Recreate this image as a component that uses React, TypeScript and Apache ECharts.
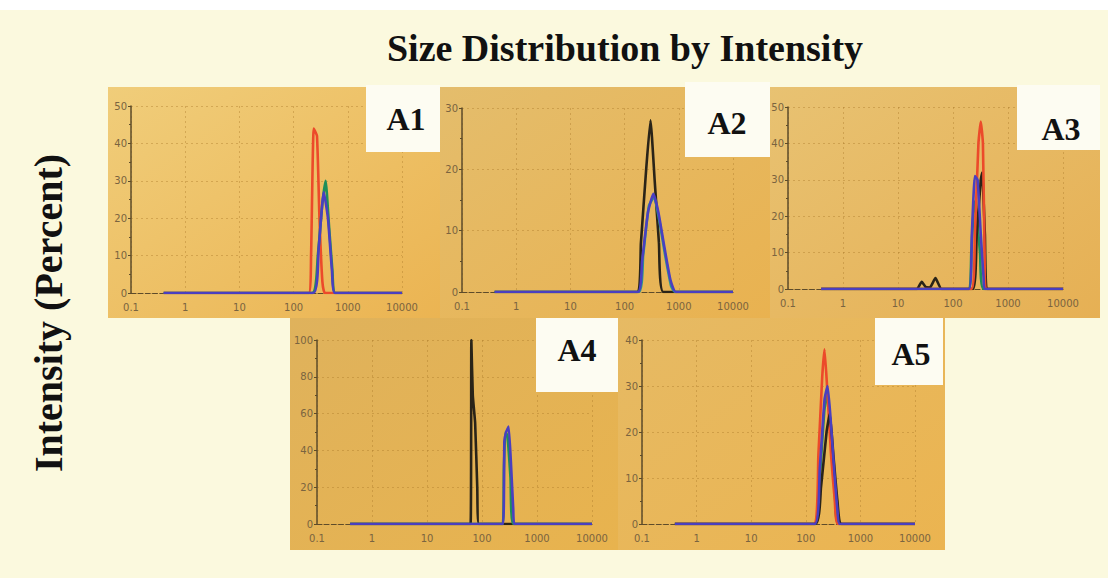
import React, { useEffect, useRef } from "react";
import * as echarts from "echarts";

// ---------- text ----------
const TITLE = "Size Distribution by Intensity";
const Y_TITLE = "Intensity (Percent)";
const PANEL_LABELS = ["A1", "A2", "A3", "A4", "A5"];

// ---------- axes ----------
const X_MIN = 0.1;
const X_MAX = 10000;
const Y_MAX = [50, 30, 50, 100, 40];
const Y_STEP = [10, 10, 10, 20, 10];

// ---------- data: [size (d.nm), intensity (%)] ----------
const A1_RED = [[0.4, 0], [190, 0], [210, 10], [235, 44], [270, 42], [300, 20], [340, 3], [380, 0], [10000, 0]];
const A1_GREEN = [[0.4, 0], [220, 0], [280, 10], [340, 24], [390, 30], [450, 18], [520, 6], [590, 0], [10000, 0]];
const A1_BLUE = [[0.4, 0], [230, 0], [290, 12], [360, 27], [430, 20], [510, 6], [580, 0], [10000, 0]];

const A2_BLACK = [[0.4, 0], [170, 0], [200, 8], [250, 20], [300, 28], [360, 18], [430, 8], [520, 0], [10000, 0]];
const A2_TEAL = [[0.4, 0], [180, 0], [220, 6], [280, 14], [350, 15.5], [430, 12], [560, 6], [720, 1], [850, 0], [10000, 0]];
const A2_BLUE = [[0.4, 0], [175, 0], [210, 5], [270, 13], [340, 16], [420, 13], [550, 7], [700, 2], [880, 0], [10000, 0]];

const A3_GREEN = [[0.4, 0], [190, 0], [215, 10], [245, 24], [270, 20], [310, 10], [360, 0], [10000, 0]];
const A3_BLACK = [[0.4, 0], [22, 0], [27, 2], [32, 0.5], [38, 0.4], [48, 3], [62, 0], [230, 0], [270, 15], [320, 30], [340, 32], [380, 15], [430, 0], [10000, 0]];
const A3_RED = [[0.4, 0], [215, 0], [250, 15], [290, 40], [320, 46], [350, 40], [375, 10], [395, 0], [10000, 0]];
const A3_BLUE = [[0.4, 0], [195, 0], [220, 15], [250, 31], [280, 30], [320, 15], [360, 3], [380, 0], [10000, 0]];

const A4_BLACK = [[0.4, 0], [62, 0], [64, 100], [68, 70], [75, 55], [82, 20], [88, 0], [10000, 0]];
const A4_GREEN = [[0.4, 0], [238, 0], [250, 30], [266, 50], [290, 48], [330, 25], [370, 0], [10000, 0]];
const A4_BLUE = [[0.4, 0], [240, 0], [255, 45], [275, 50], [305, 53], [340, 30], [370, 8], [390, 0], [10000, 0]];

const A5_GREEN = [[0.4, 0], [145, 0], [180, 10], [220, 25], [250, 28], [290, 20], [340, 8], [400, 0], [10000, 0]];
const A5_RED = [[0.4, 0], [140, 0], [170, 15], [200, 32], [220, 38], [245, 30], [290, 15], [340, 5], [390, 0], [10000, 0]];
const A5_BLACK = [[0.4, 0], [150, 0], [190, 8], [240, 20], [275, 24], [320, 15], [380, 5], [450, 0], [10000, 0]];
const A5_BLUE = [[0.4, 0], [145, 0], [180, 12], [220, 27], [250, 30], [280, 24], [330, 12], [380, 3], [420, 0], [10000, 0]];

const PANEL_SERIES = [
  [["red", A1_RED], ["green", A1_GREEN], ["blue", A1_BLUE]],
  [["black", A2_BLACK], ["teal", A2_TEAL], ["blue", A2_BLUE]],
  [["green", A3_GREEN], ["black", A3_BLACK], ["red", A3_RED], ["blue", A3_BLUE]],
  [["black", A4_BLACK], ["green", A4_GREEN], ["blue", A4_BLUE]],
  [["green", A5_GREEN], ["red", A5_RED], ["black", A5_BLACK], ["blue", A5_BLUE]],
];

// ---------- layout & style ----------
const COLORS: Record<string, string> = {
  red: "#ec4a2a",
  green: "#1f8f5a",
  teal: "#2a9a8a",
  blue: "#4a3fc0",
  black: "#2a2418",
};
const GRIDS = [
  { left: 131, top: 106, width: 271, height: 187 },
  { left: 462, top: 108, width: 271, height: 184 },
  { left: 788, top: 107, width: 275, height: 182 },
  { left: 317, top: 340, width: 275, height: 184 },
  { left: 642, top: 340, width: 273, height: 184 },
];
const PANELS = [
  { x: 108, y: 87, w: 332, h: 231, c1: "#f0cd7a", c2: "#ebb452" },
  { x: 440, y: 87, w: 330, h: 231, c1: "#e4bd6c", c2: "#e9b250" },
  { x: 770, y: 87, w: 330, h: 231, c1: "#e8c272", c2: "#e6b054" },
  { x: 290, y: 318, w: 328, h: 232, c1: "#dfb25c", c2: "#e8b34e" },
  { x: 618, y: 318, w: 327, h: 232, c1: "#e6ba64", c2: "#ebb450" },
];
const BOXES = [
  { x: 366, y: 85, w: 74, h: 67, tx: 406, ty: 119 },
  { x: 685, y: 82, w: 85, h: 75, tx: 727, ty: 123 },
  { x: 1017, y: 85, w: 83, h: 65, tx: 1061, ty: 129 },
  { x: 536, y: 318, w: 82, h: 74, tx: 577, ty: 350 },
  { x: 875, y: 318, w: 68, h: 67, tx: 911, ty: 354 },
];

export default function App() {
  const ref = useRef<HTMLDivElement>(null);
  useEffect(() => {
    if (!ref.current) return;
    const chart = echarts.init(ref.current, null, { renderer: "svg" });
    const axisColor = "#5d4b2a";
    const labelColor = "#7a6440";
    const gridLine = "rgba(170,120,40,0.4)";

    const xAxis = GRIDS.map((_, i) => ({
      type: "log",
      logBase: 10,
      gridIndex: i,
      min: X_MIN,
      max: X_MAX,
      splitNumber: 5,
      axisLine: { show: true, lineStyle: { color: axisColor, width: 1.2, type: "dashed" } },
      axisTick: { show: false },
      axisLabel: {
        color: labelColor,
        fontSize: 10,
        fontFamily: "DejaVu Sans",
        margin: 9,
        formatter: (v: number) => String(v),
      },
      splitLine: { show: true, lineStyle: { color: gridLine, type: [2, 3], width: 1 } },
    }));
    const yAxis = GRIDS.map((_, i) => ({
      type: "value",
      gridIndex: i,
      min: 0,
      max: Y_MAX[i],
      interval: Y_STEP[i],
      axisLine: { show: true, lineStyle: { color: axisColor, width: 1.5 } },
      axisTick: { show: true, length: 3, inside: false, lineStyle: { color: axisColor } },
      minorTick: { show: true, splitNumber: 2, length: 2, lineStyle: { color: axisColor } },
      axisLabel: { color: labelColor, fontSize: 10, fontFamily: "DejaVu Sans", margin: 4 },
      splitLine: { show: true, lineStyle: { color: gridLine, type: [2, 3], width: 1 } },
    }));

    const series: any[] = [];
    PANEL_SERIES.forEach((list, i) => {
      list.forEach(([color, data]) => {
        series.push({
          type: "line",
          xAxisIndex: i,
          yAxisIndex: i,
          data: data as number[][],
          symbol: "none",
          smooth: 0.15,
          z: 3,
          lineStyle: { color: COLORS[color as string], width: 2.6 },
        });
      });
    });

    const graphics: any[] = [
      { type: "rect", z: -10, shape: { x: 0, y: 0, width: 1108, height: 10 }, style: { fill: "#ffffff" } },
    ];
    PANELS.forEach((p) => {
      graphics.push({
        type: "rect",
        z: -5,
        shape: { x: p.x, y: p.y, width: p.w, height: p.h },
        style: {
          fill: new echarts.graphic.LinearGradient(0, 0, 1, 1, [
            { offset: 0, color: p.c1 },
            { offset: 1, color: p.c2 },
          ]),
        },
      });
    });
    BOXES.forEach((b, i) => {
      graphics.push({
        type: "rect",
        z: 1,
        shape: { x: b.x, y: b.y, width: b.w, height: b.h },
        style: { fill: "#fdfcf2" },
      });
      graphics.push({
        type: "text",
        z: 2,
        x: b.tx,
        y: b.ty,
        style: {
          text: PANEL_LABELS[i],
          fill: "#111",
          font: "bold 32px 'Liberation Serif'",
          align: "center",
          verticalAlign: "middle",
        },
      });
    });
    graphics.push({
      type: "text",
      z: 2,
      x: 48,
      y: 313,
      rotation: Math.PI / 2,
      style: {
        text: Y_TITLE,
        fill: "#111",
        font: "bold 40px 'Liberation Serif'",
        align: "center",
        verticalAlign: "middle",
      },
    });

    chart.setOption({
      animation: false,
      backgroundColor: "#fbf9de",
      title: {
        text: TITLE,
        left: 620,
        top: 24,
        textAlign: "center",
        textStyle: { fontFamily: "Liberation Serif", fontWeight: "bold", fontSize: 38, color: "#111" },
      },
      grid: GRIDS.map((g) => ({ ...g, containLabel: false })),
      xAxis,
      yAxis,
      series,
      graphic: { elements: graphics },
    });
    return () => chart.dispose();
  }, []);
  return <div ref={ref} style={{ position: "fixed", left: 0, top: 0, width: 1108, height: 578 }} />;
}
